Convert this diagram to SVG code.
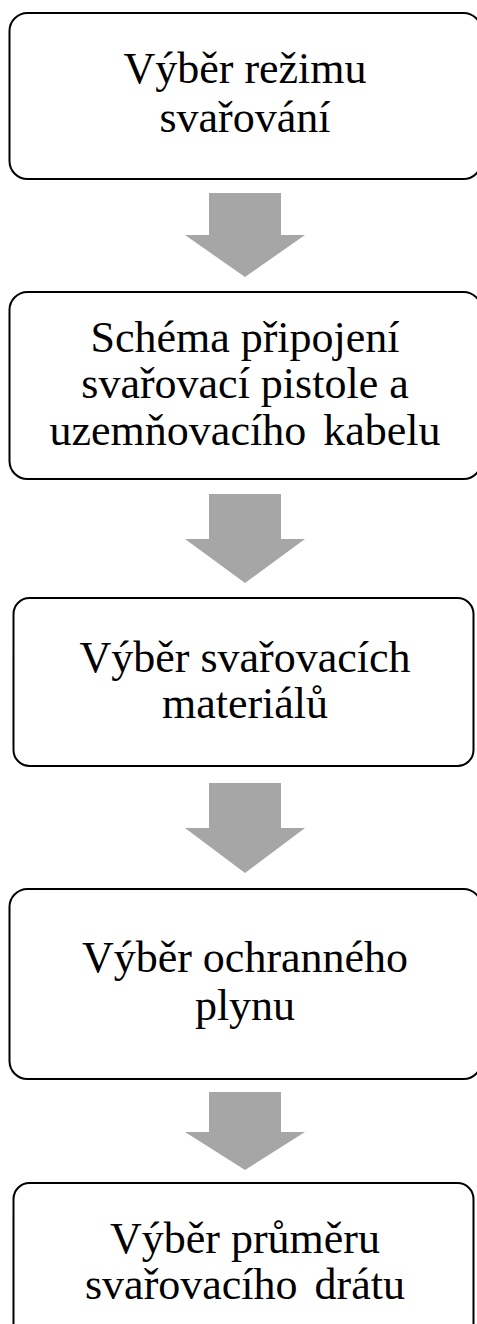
<svg xmlns="http://www.w3.org/2000/svg" width="477" height="1324" viewBox="0 0 477 1324">
<style>
.box{fill:#ffffff;stroke:#000000;stroke-width:2}
.arr{fill:#a6a6a6}
.t{font-family:"Liberation Serif","Times New Roman",serif;font-size:44px;fill:#000000;text-anchor:middle}
.ws{word-spacing:6px}
</style>
<rect width="477" height="1324" fill="#ffffff"/>
<g id="connectors">
<path class="arr" d="M209,193 H281 V235 H305 L245,277 L185,235 H209 Z"/>
<path class="arr" d="M209,494 H281 V539 H305 L245,583 L185,539 H209 Z"/>
<path class="arr" d="M209,783 H281 V828 H305 L245,873 L185,828 H209 Z"/>
<path class="arr" d="M209,1092 H281 V1132 H305 L245,1170 L185,1132 H209 Z"/>
</g>
<g id="node1">
<rect class="box" x="9.5" y="13" width="472" height="166" rx="18"/>
<text class="t" x="245" y="83">Výběr režimu</text>
<text class="t" x="245" y="132">svařování</text>
</g>
<g id="node2">
<rect class="box" x="9.5" y="292" width="472" height="187" rx="18"/>
<text class="t" x="245" y="352">Schéma připojení</text>
<text class="t" x="245" y="398">svařovací pistole a</text>
<text class="t ws" x="245" y="445">uzemňovacího kabelu</text>
</g>
<g id="node3">
<rect class="box" x="13.5" y="598" width="460" height="168" rx="16"/>
<text class="t" x="245" y="672">Výběr svařovacích</text>
<text class="t" x="245" y="718">materiálů</text>
</g>
<g id="node4">
<rect class="box" x="9.5" y="889" width="472" height="190" rx="18"/>
<text class="t" x="245" y="972">Výběr ochranného</text>
<text class="t" x="245" y="1020">plynu</text>
</g>
<g id="node5">
<rect class="box" x="13.5" y="1183" width="460" height="170" rx="16"/>
<text class="t" x="245" y="1253">Výběr průměru</text>
<text class="t ws" x="245" y="1299">svařovacího drátu</text>
</g>
</svg>
